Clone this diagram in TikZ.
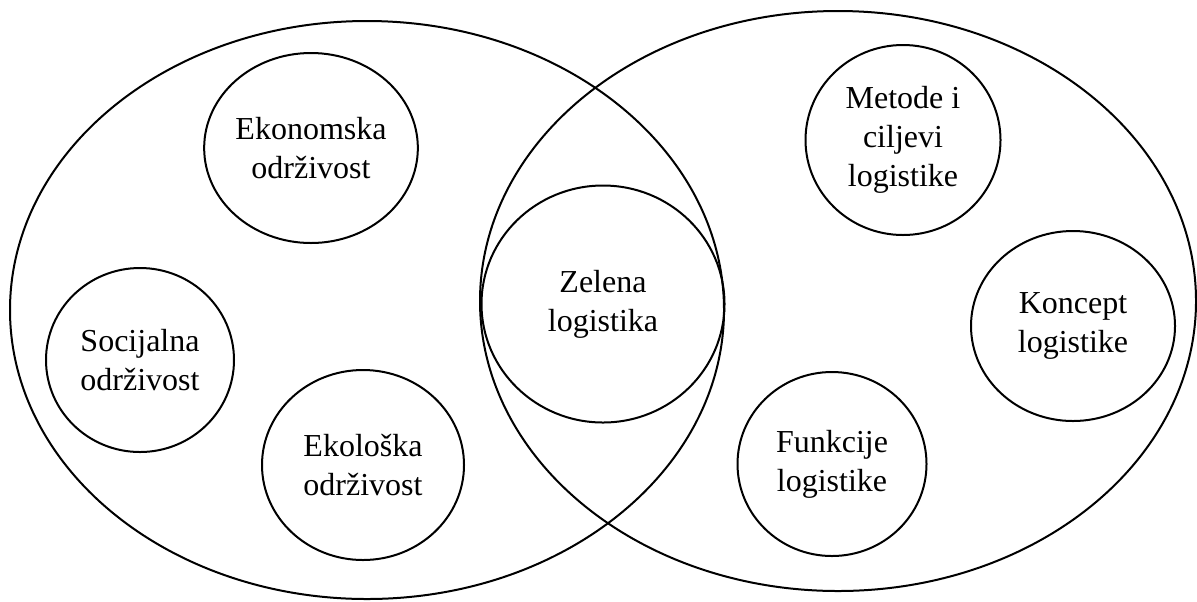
\documentclass[tikz,border=0pt]{standalone}
\usepackage{fontspec}
\setmainfont{Liberation Serif}
\usetikzlibrary{shapes.geometric}

\begin{document}
\begin{tikzpicture}[x=0.5pt, y=-0.5pt, line width=1pt]
  \tikzstyle{every node}=[ellipse, draw, align=center, inner sep=0pt,
    font=\fontsize{16}{19.5}\selectfont]
  \useasboundingbox (0,0) rectangle (1197,601);
  % the two large sets
  \draw (367,310) ellipse [x radius=357, y radius=289];
  \draw (838,301) ellipse [x radius=358, y radius=290];
  % left set
  \node[minimum width=98pt, minimum height=95pt]   (ekonomska) at (311,148) {Ekonomska\\održivost};
  \node[minimum width=94pt, minimum height=92pt]   (socijalna) at (140,360) {Socijalna\\održivost};
  \node[minimum width=101pt, minimum height=95pt]  (ekoloska)  at (363,465) {Ekološka\\održivost};
  % overlap
  \node[minimum width=121.5pt, minimum height=118.5pt] (zelena) at (603,304) {Zelena\\logistika};
  % right set
  \node[minimum width=97.5pt, minimum height=95pt] (metode)   at (903,140) {Metode i\\ciljevi\\logistike};
  \node[minimum width=102pt, minimum height=95pt]  (koncept)  at (1073,326) {Koncept\\logistike};
  \node[minimum width=94.5pt, minimum height=92pt] (funkcije) at (832,464) {Funkcije\\logistike};
\end{tikzpicture}
\end{document}
